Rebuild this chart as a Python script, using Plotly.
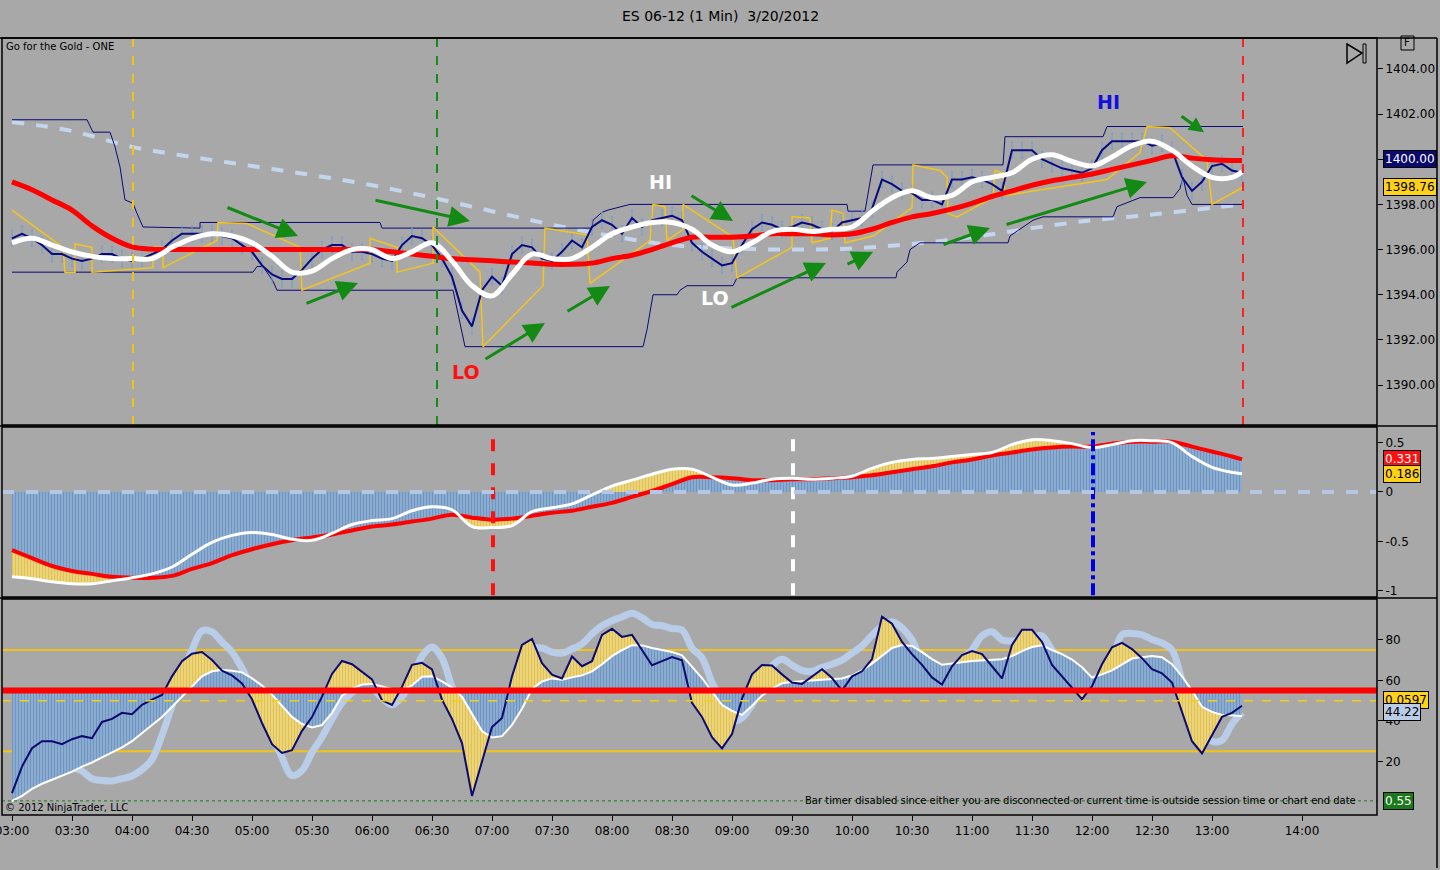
import plotly.graph_objects as go

FONT = "DejaVu Sans"
BG = "#a8a8a8"

# x = minutes after 03:00
T5 = list(range(0, 616, 5))
T10 = list(range(0, 611, 10)) + [615]
T30 = list(range(0, 601, 30)) + [615]

TICK_POS = list(range(0, 601, 30)) + [645]
TICK_TEXT = ["03:00", "03:30", "04:00", "04:30", "05:00", "05:30", "06:00", "06:30",
             "07:00", "07:30", "08:00", "08:30", "09:00", "09:30", "10:00", "10:30",
             "11:00", "11:30", "12:00", "12:30", "13:00", "14:00"]

# ---- price panel ----
price = [1396.5, 1396.7, 1396.5, 1396.2, 1395.8, 1395.8, 1395.6, 1395.5, 1395.6, 1395.8,
         1395.8, 1395.6, 1395.5, 1395.6, 1395.8, 1396.0, 1396.4, 1396.7, 1396.7, 1396.7,
         1396.7, 1396.6, 1396.5, 1396.2, 1395.9, 1395.3, 1394.9, 1394.7, 1394.7, 1395.1,
         1395.6, 1396.0, 1396.2, 1396.2, 1395.9, 1395.9, 1395.8, 1395.6, 1395.5, 1396.2,
         1396.6, 1396.5, 1396.2, 1395.6, 1394.8, 1393.3, 1392.6, 1394.2, 1394.8, 1394.4,
         1395.8, 1396.2, 1396.1, 1395.6, 1395.5, 1395.9, 1396.4, 1396.1, 1397.0, 1397.3,
         1397.1, 1396.7, 1397.4, 1397.0, 1397.3, 1397.4, 1397.5, 1397.3, 1396.3, 1395.9,
         1395.6, 1395.3, 1395.4, 1396.2, 1396.9, 1397.2, 1397.1, 1396.9, 1397.0, 1397.2,
         1397.1, 1396.9, 1396.8, 1397.2, 1397.3, 1397.4, 1397.8, 1399.1, 1398.9, 1398.6,
         1398.5, 1398.2, 1398.2, 1398.0, 1399.1, 1399.1, 1399.2, 1399.1, 1398.9, 1398.6,
         1400.4, 1400.4, 1400.4, 1400.0, 1399.8, 1399.6, 1399.5, 1399.4, 1399.6, 1400.4,
         1400.8, 1400.8, 1400.8, 1400.8, 1400.6, 1400.7, 1400.4, 1399.2, 1398.6, 1399.0,
         1399.7, 1399.8, 1399.5, 1399.4]

fast_ma = [1396.3, 1396.5, 1396.2, 1395.9, 1395.7, 1395.6, 1395.6, 1395.6, 1396.1, 1396.5,
           1396.7, 1396.6, 1396.3, 1395.7, 1395.0, 1395.05, 1395.6, 1396.0, 1396.0, 1395.6,
           1395.9, 1396.3, 1395.5, 1394.4, 1393.95, 1394.9, 1395.8, 1395.6, 1395.6, 1396.1,
           1396.7, 1397.0, 1397.2, 1397.2, 1396.9, 1396.2, 1395.9, 1396.3, 1396.8, 1396.9,
           1396.8, 1396.9, 1397.0, 1397.7, 1398.3, 1398.6, 1398.3, 1398.4, 1399.0, 1399.2,
           1399.4, 1400.0, 1400.2, 1399.9, 1399.7, 1400.1, 1400.6, 1400.8, 1400.4, 1399.7,
           1399.2, 1399.2, 1399.45]

slow_ma = [1399.0, 1398.65, 1398.2, 1397.75, 1397.05, 1396.5, 1396.12, 1396.02, 1396.0, 1396.0,
           1396.0, 1396.0, 1396.0, 1396.0, 1396.0, 1396.0, 1396.0, 1396.0, 1396.0, 1395.9,
           1395.8, 1395.7, 1395.6, 1395.55, 1395.5, 1395.45, 1395.4, 1395.35, 1395.35, 1395.4,
           1395.6, 1395.75, 1396.0, 1396.3, 1396.55, 1396.55, 1396.55, 1396.6, 1396.7, 1396.7,
           1396.7, 1396.65, 1396.7, 1396.9, 1397.2, 1397.45, 1397.6, 1397.8, 1398.05, 1398.35,
           1398.6, 1398.85, 1399.05, 1399.2, 1399.35, 1399.55, 1399.75, 1399.95, 1400.15, 1400.05,
           1399.98, 1399.95, 1399.95]

long_ma = [1401.65, 1401.25, 1400.55, 1400.1, 1399.7, 1399.3, 1398.85, 1398.3, 1397.7, 1397.1,
           1396.6, 1396.2, 1396.05, 1396.0, 1396.05, 1396.25, 1396.55, 1396.95, 1397.3, 1397.55,
           1397.85, 1398.0]

upper_t = [0, 37.5, 40.5, 49, 51.5, 54, 56.5, 60.5, 62.5, 65.5, 94, 94, 184, 185, 290, 290.5,
           295, 298, 309, 417.5, 418, 426.5, 430.5, 495.5, 496.5, 545.5, 547.5, 615.5]
upper_v = [1401.75, 1401.75, 1401.2, 1401.2, 1400.55, 1399.66, 1398.2, 1398.05, 1397.6, 1397.0,
           1396.95, 1397.2, 1397.2, 1396.95, 1396.95, 1397.3, 1397.65, 1397.75, 1398.0, 1398.0,
           1397.7, 1397.7, 1399.75, 1399.75, 1401.0, 1401.0, 1401.45, 1401.45]

lower_t = [0, 120.5, 122.5, 125.5, 130.5, 132.5, 220.5, 224, 226.5, 315.5, 317.5, 320.5, 332.5,
           334, 337.5, 360.5, 362.5, 442, 442.5, 447.5, 449, 454, 498, 499, 504, 510.5, 515.5,
           550.5, 552.5, 564, 580.5, 584, 585.5, 587.5, 590, 615.5]
lower_v = [1395.0, 1395.0, 1395.25, 1395.25, 1394.6, 1394.2, 1394.2, 1392.75, 1391.7, 1391.7,
           1392.45, 1394.0, 1394.0, 1394.2, 1394.4, 1394.4, 1394.75, 1394.75, 1395.0, 1395.45,
           1396.0, 1396.3, 1396.3, 1396.6, 1396.9, 1397.3, 1397.45, 1397.45, 1397.9, 1398.3,
           1398.3, 1398.7, 1399.2, 1398.4, 1398.0, 1398.0]

stop_t = [0, 25.5, 26.5, 31.5, 31.5, 40, 40, 70.5, 70.5, 75.5, 75.5, 102.5, 103, 117.5, 144,
          145, 179, 179, 192.5, 192.5, 210.5, 210.5, 234, 235.5, 265.5, 266.5, 287.5, 289, 319,
          320.5, 326.5, 327.5, 335.5, 335.5, 360.5, 362.5, 390, 390, 399, 400, 409, 410, 415.5,
          416.5, 430.5, 450, 450.5, 464, 467.5, 468, 472.5, 490.5, 491.5, 495.5, 496.5, 547.5,
          564, 567.5, 579, 597.5, 600, 615.5]
stop_v = [1397.75, 1396.1, 1395.0, 1395.0, 1396.25, 1396.1, 1395.0, 1395.2, 1396.1, 1396.1,
          1395.2, 1396.4, 1397.2, 1397.15, 1396.1, 1394.2, 1395.4, 1396.5, 1396.1, 1395.0,
          1395.4, 1397.0, 1395.0, 1391.7, 1394.4, 1396.95, 1396.65, 1394.5, 1396.4, 1398.0,
          1397.9, 1396.4, 1396.9, 1398.0, 1396.55, 1394.75, 1396.1, 1397.45, 1397.4, 1396.3,
          1396.5, 1397.75, 1397.6, 1396.3, 1396.6, 1397.85, 1399.75, 1399.5, 1399.2, 1397.6,
          1397.45, 1398.3, 1399.5, 1399.4, 1398.4, 1399.1, 1400.3, 1401.45, 1401.4, 1399.95,
          1398.0, 1398.76]

# green arrows: tail time, tail price, head time, head price
arrows = [(107, 1397.89, 143, 1396.6), (146.5, 1393.59, 173, 1394.52),
          (181, 1398.2, 229, 1397.27), (236, 1391.11, 266.5, 1392.75),
          (277, 1393.23, 299, 1394.39), (339, 1398.42, 360.5, 1397.27),
          (359, 1393.41, 407, 1395.4), (417, 1395.32, 430.5, 1395.89),
          (465, 1396.2, 489, 1396.96), (496.5, 1397.09, 567.5, 1398.99),
          (584, 1401.95, 596, 1401.2)]

marks = [("HI", 324, 1399.0, "white"), ("LO", 227, 1390.6, "#ff1010"),
         ("LO", 351.5, 1393.85, "white"), ("HI", 548, 1402.55, "#1010e0")]

# ---- middle oscillator ----
osc_slow = [-0.59, -0.67, -0.75, -0.80, -0.83, -0.86, -0.87, -0.87, -0.85, -0.78,
            -0.72, -0.64, -0.58, -0.53, -0.49, -0.46, -0.43, -0.39, -0.35, -0.33,
            -0.30, -0.27, -0.23, -0.26, -0.28, -0.27, -0.24, -0.21, -0.19, -0.15,
            -0.11, -0.05, 0.01, 0.08, 0.15, 0.15, 0.14, 0.12, 0.12, 0.13,
            0.13, 0.14, 0.15, 0.17, 0.20, 0.23, 0.26, 0.30, 0.33, 0.37,
            0.40, 0.43, 0.45, 0.46, 0.46, 0.49, 0.51, 0.51, 0.51, 0.46,
            0.41, 0.36, 0.331]
osc_fast = [-0.86, -0.88, -0.91, -0.93, -0.93, -0.90, -0.87, -0.83, -0.76, -0.63,
            -0.51, -0.44, -0.41, -0.43, -0.48, -0.49, -0.42, -0.33, -0.29, -0.27,
            -0.19, -0.15, -0.18, -0.35, -0.36, -0.34, -0.20, -0.16, -0.12, -0.03,
            0.06, 0.12, 0.18, 0.23, 0.23, 0.15, 0.07, 0.09, 0.13, 0.14,
            0.13, 0.14, 0.16, 0.24, 0.30, 0.33, 0.34, 0.36, 0.38, 0.40,
            0.48, 0.53, 0.52, 0.49, 0.45, 0.48, 0.52, 0.52, 0.50, 0.36,
            0.25, 0.20, 0.186]

# ---- bottom stochastic ----
stoch_k = [4.4, 17.5, 26.5, 30.0, 30.0, 28.5, 31.0, 32.5, 31.5, 39.5,
           41.0, 44.0, 43.3, 48.0, 50.5, 52.8, 62.0, 69.5, 73.2, 74.0,
           70.1, 64.8, 62.5, 58.5, 50.7, 39.0, 28.5, 24.2, 25.6, 35.1,
           41.9, 52.0, 63.2, 69.6, 68.0, 64.3, 60.5, 50.2, 47.9, 56.8,
           67.7, 68.7, 65.4, 50.5, 41.0, 29.1, 3.0, 20.0, 37.0, 41.5,
           62.0, 77.5, 80.5, 68.5, 62.8, 61.0, 71.8, 67.0, 69.5, 82.5,
           85.5, 81.5, 82.5, 75.0, 67.5, 69.5, 71.5, 70.0, 49.0, 42.0,
           32.0, 26.5, 33.5, 51.0, 63.0, 67.6, 67.4, 63.0, 59.0, 58.3,
           62.0, 65.5, 61.2, 55.0, 62.0, 64.5, 70.5, 91.5, 88.0, 79.0,
           73.0, 67.7, 61.5, 58.0, 67.0, 72.5, 74.5, 73.0, 67.0, 61.0,
           77.5, 85.0, 85.0, 79.0, 67.7, 62.0, 56.5, 50.8, 57.2, 68.0,
           76.4, 78.5, 75.5, 71.0, 65.6, 63.5, 59.0, 45.0, 30.0, 24.0,
           33.0, 42.0, 44.0, 47.5]
stoch_d = [0.5, 3, 6.5, 9, 11, 13, 15, 17.5, 19.5, 22,
           24.5, 27, 30, 34, 38, 42, 47, 52, 57.5, 62,
           64.5, 65.2, 64.8, 64, 61, 57.5, 53, 47.5, 42, 38.5,
           36.8, 38, 44, 52.5, 56, 58, 58.3, 57, 55.8, 55,
           57.5, 61.8, 62.0, 59.5, 56.5, 52.0, 43.5, 35, 31.8, 32.5,
           38, 46, 55.8, 59.5, 61.0, 60.4, 61.5, 62.5, 64.5, 68,
           72, 75, 77.4, 77.3, 76, 75, 74, 72.4, 67, 61.2,
           54.5, 47.9, 45, 43, 47.5, 52.5, 56, 58.6, 59.2, 59.7,
           60, 60.3, 60.6, 61, 62.5, 65, 68.3, 72, 76, 77.5,
           77, 74, 70.5, 67.7, 68.2, 69, 69.6, 69.8, 70, 70.5,
           72, 74.5, 76.5, 77.4, 75, 73, 70.3, 66.5, 61.4, 63,
           65, 68, 70.8, 71.5, 72, 71.5, 68, 62, 55, 47,
           44.5, 43, 42.8, 42.5]
stoch_slow = [19.3, 19.6, 20.0, 20.0, 19, 18, 17, 15.3, 11.5, 10.6,
              10.4, 11.5, 12.8, 16, 21, 33, 47.5, 62, 75, 84.5,
              84, 79, 74, 66, 56, 46.5, 34, 22, 13, 15.5,
              24.5, 32, 41, 49, 54, 57, 56, 51.5, 48, 52,
              60, 72, 76.5, 71, 57, 48, 44, 42, 42, 46,
              57, 72, 76, 76, 74, 73.5, 75.5, 78, 83, 87,
              89.5, 91.3, 93.2, 91, 87.6, 87, 85.6, 85, 76, 71.1,
              59, 50, 40, 41.5, 48, 57, 67, 70.5, 67.6, 65,
              64.5, 66.5, 68, 70, 73.5, 77, 82.3, 86.5, 89, 86,
              80, 69.6, 66, 62.7, 66, 70.7, 75, 82, 84, 80,
              79.5, 80, 81.5, 82, 75, 69, 64, 61, 60, 64,
              70, 82.5, 83.2, 82.5, 80.2, 78.5, 75, 60, 46, 35.5,
              30, 30.5, 38.5, 44.2]
STOCH_MID = 55
STOCH_BANDS = [75, 25]


def px(x):
    return (x - 2) / 1375


def py(y):
    return (815 - y) / 777


fig = go.Figure()

# price panel
fig.add_trace(go.Scatter(x=T30, y=long_ma, mode="lines", line=dict(color="#c4d6ee", width=4, dash="dash"),
                         line_shape="spline", yaxis="y"))
fig.add_trace(go.Scatter(x=upper_t, y=upper_v, mode="lines", line=dict(color="#0a0a78", width=1), yaxis="y"))
fig.add_trace(go.Scatter(x=lower_t, y=lower_v, mode="lines", line=dict(color="#0a0a78", width=1), yaxis="y"))
fig.add_trace(go.Scatter(x=T5, y=price, mode="markers", marker=dict(size=1, color="#6f9bd2"),
                         error_y=dict(type="constant", value=0.35, color="#6f9bd2", thickness=1, width=1),
                         yaxis="y"))
fig.add_trace(go.Scatter(x=stop_t, y=stop_v, mode="lines", line=dict(color="#f5c518", width=1.5), yaxis="y"))
fig.add_trace(go.Scatter(x=T5, y=price, mode="lines", line=dict(color="#0a0a80", width=2), yaxis="y"))
fig.add_trace(go.Scatter(x=T10, y=slow_ma, mode="lines", line=dict(color="#ff0000", width=5),
                         line_shape="spline", yaxis="y"))
fig.add_trace(go.Scatter(x=T10, y=fast_ma, mode="lines", line=dict(color="white", width=5),
                         line_shape="spline", yaxis="y"))

# middle panel: yellow between lines, blue histogram on top
fig.add_trace(go.Scatter(x=T10, y=osc_fast, mode="lines", line=dict(width=0), line_shape="spline", yaxis="y2"))
fig.add_trace(go.Scatter(x=T10, y=osc_slow, mode="lines", line=dict(width=0), line_shape="spline", fill="tonexty",
                         fillpattern=dict(shape="|", fgcolor="#d7a82a", bgcolor="#ecd77e", size=3, solidity=0.4),
                         yaxis="y2"))
fig.add_trace(go.Scatter(x=T10, y=osc_slow, mode="lines", line=dict(width=0), line_shape="spline", fill="tozeroy",
                         fillpattern=dict(shape="|", fgcolor="#4a78a6", bgcolor="#93b4d6", size=3, solidity=0.5),
                         yaxis="y2"))
fig.add_trace(go.Scatter(x=T10, y=osc_slow, mode="lines", line=dict(color="#ff0000", width=4),
                         line_shape="spline", yaxis="y2"))
fig.add_trace(go.Scatter(x=T10, y=osc_fast, mode="lines", line=dict(color="white", width=3),
                         line_shape="spline", yaxis="y2"))

# bottom panel
fig.add_trace(go.Scatter(x=T5, y=stoch_slow, mode="lines", line=dict(color="#b9cde8", width=7),
                         line_shape="spline", yaxis="y3"))
fig.add_trace(go.Scatter(x=T5, y=stoch_k, mode="lines", line=dict(width=0), yaxis="y3"))
fig.add_trace(go.Scatter(x=T5, y=stoch_d, mode="lines", line=dict(width=0), fill="tonexty",
                         fillpattern=dict(shape="|", fgcolor="#d7a82a", bgcolor="#ecd77e", size=3, solidity=0.4),
                         yaxis="y3"))
fig.add_trace(go.Scatter(x=T5, y=[STOCH_MID] * len(T5), mode="lines", line=dict(width=0), yaxis="y3"))
fig.add_trace(go.Scatter(x=T5, y=stoch_d, mode="lines", line=dict(width=0), fill="tonexty",
                         fillpattern=dict(shape="|", fgcolor="#4a78a6", bgcolor="#93b4d6", size=3, solidity=0.5),
                         yaxis="y3"))
fig.add_trace(go.Scatter(x=T5, y=stoch_d, mode="lines", line=dict(color="white", width=2), yaxis="y3"))
fig.add_trace(go.Scatter(x=T5, y=stoch_k, mode="lines", line=dict(color="#0a0a70", width=2), yaxis="y3"))

shapes = []
# vertical markers
for xv, col, yr, w, dash in [(60.5, "#f2c314", "y", 2, "dash"), (212.5, "#178a17", "y", 2, "dash"),
                             (615.5, "#ff2020", "y", 2, "dash"),
                             (240.5, "#ff1010", "y2", 4, "dash"), (390.5, "white", "y2", 4, "dash"),
                             (540.5, "#0000e0", "y2", 4, "dashdot")]:
    y0, y1 = (0, 1) if yr == "y" else (0.01, 0.97)
    shapes.append(dict(type="line", xref="x", yref=yr + " domain", x0=xv, x1=xv, y0=y0, y1=y1,
                       line=dict(color=col, width=w, dash=dash)))
# middle zero line
shapes.append(dict(type="line", xref="paper", yref="y2", x0=0, x1=1, y0=0, y1=0,
                   line=dict(color="#b4c8e6", width=4, dash="dash")))
# bottom levels
for lv in STOCH_BANDS:
    shapes.append(dict(type="line", xref="paper", yref="y3", x0=0, x1=1, y0=lv, y1=lv, layer="below",
                       line=dict(color="#f2c314", width=2)))
shapes.append(dict(type="line", xref="paper", yref="y3", x0=0, x1=1, y0=50, y1=50,
                   line=dict(color="#f2d014", width=1.5, dash="dash")))
shapes.append(dict(type="line", xref="paper", yref="y3", x0=0, x1=1, y0=STOCH_MID, y1=STOCH_MID,
                   line=dict(color="#ff0000", width=6)))
shapes.append(dict(type="line", xref="paper", yref="y3", x0=0, x1=1, y0=0.55, y1=0.55,
                   line=dict(color="#1a7a1a", width=1, dash="dot")))
# panel frames
for yr in ["y", "y2", "y3"]:
    shapes.append(dict(type="rect", xref="paper", yref=yr + " domain", x0=0, x1=1, y0=0, y1=1,
                       line=dict(color="black", width=1.5)))
for ypix in [38, 426, 598]:
    shapes.append(dict(type="line", xref="paper", yref="paper", x0=px(0), x1=px(1437), y0=py(ypix), y1=py(ypix),
                       line=dict(color="black", width=1.5)))
shapes.append(dict(type="line", xref="paper", yref="paper", x0=px(1437), x1=px(1437), y0=py(38), y1=py(868),
                   line=dict(color="black", width=1.5)))
# go-to-end icon
shapes.append(dict(type="path", xref="paper", yref="paper",
                   path="M {} {} L {} {} L {} {} Z".format(px(1347), py(44), px(1362), py(53), px(1347), py(63)),
                   line=dict(color="black", width=1.5)))
shapes.append(dict(type="rect", xref="paper", yref="paper", x0=px(1363), x1=px(1366), y0=py(44), y1=py(63),
                   line=dict(color="black", width=1)))
# "F" box
shapes.append(dict(type="rect", xref="paper", yref="paper", x0=px(1401), x1=px(1414), y0=py(36), y1=py(50),
                   line=dict(color="black", width=1)))

ann = []
for i, (tx, ty, hx, hy) in enumerate(arrows):
    ann.append(dict(x=hx, y=hy, ax=tx, ay=ty, xref="x", yref="y", axref="x", ayref="y", text="",
                    showarrow=True, arrowhead=2, arrowsize=1.4 if i < len(arrows) - 1 else 1.0,
                    arrowwidth=3, arrowcolor="#138a13"))
for txt, xv, yv, col in marks:
    ann.append(dict(x=xv, y=yv, xref="x", yref="y", text="<b>" + txt + "</b>", showarrow=False,
                    font=dict(family=FONT, size=19, color=col)))


def tag(text, yref, y, bg, fg):
    return dict(xref="paper", x=1, xanchor="left", xshift=6, yref=yref, y=y, text=text, showarrow=False,
                bgcolor=bg, bordercolor="black", borderwidth=1, borderpad=1,
                font=dict(family=FONT, size=12, color=fg))


def label(text, xp, yp, anchor="left", size=10):
    return dict(xref="paper", yref="paper", x=px(xp), y=py(yp), xanchor=anchor, yanchor="middle",
                text=text, showarrow=False, font=dict(family=FONT, size=size, color="black"))


ann += [tag("1400.00", "y", 1400.0, "#0a0a6e", "white"),
        tag("1398.76", "y", stop_v[-1], "#ffd21a", "black"),
        tag("0.331", "y2", osc_slow[-1], "#ff1010", "white"),
        tag("0.186", "y2", osc_fast[-1], "#ffd21a", "black"),
        tag("0.0597", "y3", 50.3, "#ffd21a", "black"),
        tag("44.22", "y3", stoch_slow[-1], "#b9cde8", "black"),
        tag("0.55", "y3", 0.55, "#1a7a1a", "white")]
ann += [
    label("ES 06-12 (1 Min)\u00a0 3/20/2012", 720, 16, "center", 14),
    label("Go for the Gold - ONE", 4, 46),
    label("© 2012 NinjaTrader, LLC", 3, 807),
    label("Bar timer disabled since either you are disconnected or current time is outside session time "
          "or chart end date", 1358, 800, "right"),
    label("F", 1407.5, 43, "center", 10),
]

axis_common = dict(side="right", showgrid=False, zeroline=False, ticks="outside", ticklen=5,
                   tickcolor="black", tickfont=dict(family=FONT, size=12, color="black"),
                   fixedrange=True, automargin=False)

fig.update_layout(
    width=1440, height=870,
    margin=dict(l=2, r=63, t=38, b=55),
    paper_bgcolor=BG, plot_bgcolor=BG,
    showlegend=False,
    xaxis=dict(anchor="y3", range=[-5, 682.5], tickvals=TICK_POS, ticktext=TICK_TEXT, showgrid=False,
               zeroline=False, ticks="outside", ticklen=5, tickcolor="black", ticklabeloverflow="allow",
               automargin=False, tickfont=dict(family=FONT, size=12, color="black")),
    yaxis=dict(domain=[0.5019, 1.0], range=[1388.23, 1405.37], tickvals=list(range(1390, 1405, 2)),
               tickformat=".2f", **axis_common),
    yaxis2=dict(domain=[0.2806, 0.4994], range=[-1.064, 0.659], tickvals=[0.5, 0, -0.5, -1],
                ticktext=["0.5", "0", "-0.5", "-1"], **axis_common),
    yaxis3=dict(domain=[0, 0.278], range=[-6.42, 100.2], tickvals=[20, 40, 60, 80], **axis_common),
    shapes=shapes,
    annotations=ann,
)

fig.write_html("out.html", config={"displayModeBar": False},
               post_script="document.body.style.margin='0';document.body.style.overflow='hidden';")
